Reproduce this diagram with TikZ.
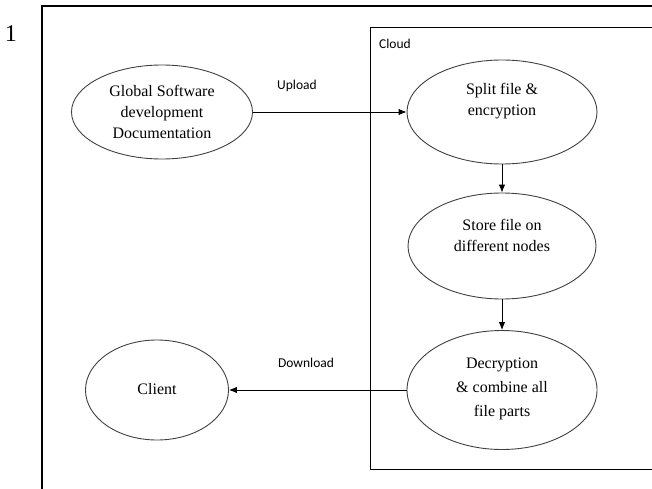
\documentclass[tikz,border=0pt]{standalone}
\usepackage{fontspec}
\setmainfont{Liberation Serif}
\newfontfamily\calibri{Carlito}
\usetikzlibrary{shapes.geometric,arrows.meta}
\begin{document}
\begin{tikzpicture}[x=1pt,y=-1pt,
  bubble/.style={draw=black!75, line width=0.9pt, ellipse, inner sep=0pt},
  txt/.style={align=center, inner sep=0pt, font=\fontsize{16}{21}\selectfont},
  lbl/.style={inner sep=0pt, font=\calibri\fontsize{13.5}{16}\selectfont},
  arr/.style={draw=black, line width=0.9pt, -{Latex[length=8pt,width=6.5pt]}}]
\useasboundingbox (0,0) rectangle (652,489);
% outer frame
\draw[line width=1.6pt] (42,489) -- (42,6) -- (652,6);
\node[font=\fontsize{24}{28}\selectfont, inner sep=0pt] (num) at (11,34) {1};
% cloud container
\node[draw, line width=1pt, minimum width=300pt, minimum height=442pt, anchor=north west, inner sep=0pt] (cloud) at (370,27) {};
\node[lbl, anchor=west] (cloudlbl) at (379,44) {Cloud};
% ellipses
\node[bubble, minimum width=181pt, minimum height=94pt] (gsd) at (162,112) {};
\node[txt] (gsdt) at (162,112) {Global Software\\development\\Documentation};
\node[bubble, minimum width=190pt, minimum height=104pt] (split) at (502,112) {};
\node[txt] (splitt) at (502,101) {Split file \&\\encryption};
\node[bubble, minimum width=188pt, minimum height=106pt] (store) at (502,246) {};
\node[txt] (storet) at (502,235) {Store file on\\different nodes};
\node[bubble, minimum width=190pt, minimum height=119pt] (dec) at (502,390) {};
\node[txt, font=\fontsize{16}{24}\selectfont] (dect) at (502,389) {Decryption\\\& combine all\\file parts};
\node[bubble, minimum width=143pt, minimum height=100pt] (client) at (157,390) {};
\node[txt] (clientt) at (157,389) {Client};
% connectors
\draw[arr] (gsd.east) -- (split.west);
\draw[arr] (split.south) -- (store.north);
\draw[arr] (store.south) -- (dec.north);
\draw[arr] (dec.west) -- (client.east);
% labels
\node[lbl] (up) at (297,86) {Upload};
\node[lbl] (down) at (306,363) {Download};
\end{tikzpicture}
\end{document}
